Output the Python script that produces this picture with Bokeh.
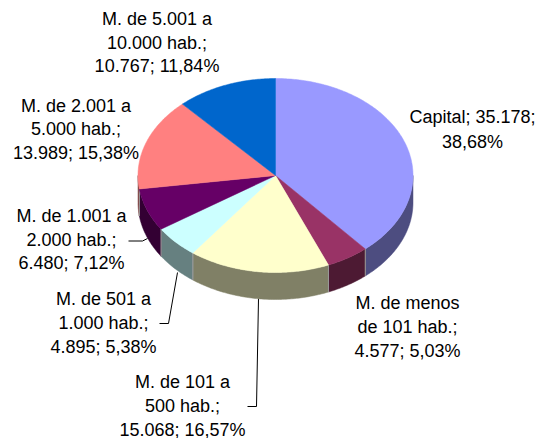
import numpy as np
from bokeh.plotting import figure
from bokeh.models import Range1d
from bokeh.core.properties import value
from bokeh.embed import file_html
from bokeh.resources import INLINE

categories = ["Capital", "M. de menos de 101 hab.", "M. de 101 a 500 hab.", "M. de 501 a 1.000 hab.",
              "M. de 1.001 a 2.000 hab.", "M. de 2.001 a 5.000 hab.", "M. de 5.001 a 10.000 hab."]
values = [35178, 4577, 15068, 4895, 6480, 13989, 10767]
top_colors = ["#9999FF", "#993366", "#FFFFCC", "#CCFFFF", "#660066", "#FF8080", "#0066CC"]
side_colors = ["#4D4D80", "#4D1A33", "#808066", "#668080", "#330033", "#804040", "#003366"]
label_lines = [
    ["Capital; 35.178;", "38,68%"],
    ["M. de menos", "de 101 hab.;", "4.577; 5,03%"],
    ["M. de 101 a", "500 hab.;", "15.068; 16,57%"],
    ["M. de 501 a", "1.000 hab.;", "4.895; 5,38%"],
    ["M. de 1.001 a", "2.000 hab.;", "6.480; 7,12%"],
    ["M. de 2.001 a", "5.000 hab.;", "13.989; 15,38%"],
    ["M. de 5.001 a", "10.000 hab.;", "10.767; 11,84%"],
]
label_x = [472, 407, 182, 103, 71, 75.5, 156.5]
label_y = [[116, 141], [302, 326, 350], [381, 405, 429], [298, 322, 346], [215, 239, 262], [105, 128, 152], [18, 42, 65]]
leaders = [([128, 142, 147], [240.5, 240.5, 238]),
           ([159, 168, 177], [323, 323, 272]),
           ([247, 256, 258], [406, 406, 298])]

CX, CY, RX, RY, DEPTH = 275, 175, 137.5, 97, 27

W, H = 539, 438
p = figure(width=W, height=H, output_backend="svg", toolbar_location=None,
           x_range=Range1d(0, W), y_range=Range1d(H, 0),
           min_border=0, outline_line_color=None, background_fill_color="white", border_fill_color="white")
p.xaxis.visible = False
p.yaxis.visible = False
p.grid.visible = False


def arc(a0, a1):
    n = max(2, int(abs(a1 - a0) * 80))
    t = np.linspace(a0, a1, n)
    return CX + RX * np.sin(t), CY - RY * np.cos(t)


edges = np.concatenate([[0], np.cumsum(values)]) / sum(values) * 2 * np.pi

# leader lines go under the pie
for lx, ly in leaders:
    p.line(lx, ly, line_color="#000000", line_width=1)

# side walls (visible only on the near half of the disc)
for i in range(len(values)):
    a0, a1 = max(edges[i], np.pi / 2), min(edges[i + 1], 3 * np.pi / 2)
    if a1 <= a0:
        continue
    x, y = arc(a0, a1)
    px = np.concatenate([x, x[::-1]])
    py = np.concatenate([y, y[::-1] + DEPTH])
    p.patch(px, py, fill_color=side_colors[i], line_color=side_colors[i], line_width=0.5)
    for a in (a0, a1):
        if np.pi / 2 < a < 3 * np.pi / 2:
            ex, ey = arc(a, a + 1e-6)
            p.line([ex[0], ex[0]], [ey[0], ey[0] + DEPTH], line_color="#9A9A9A", line_width=1)

# top faces
for i in range(len(values)):
    x, y = arc(edges[i], edges[i + 1])
    p.patch(np.concatenate([[CX], x]), np.concatenate([[CY], y]),
            fill_color=top_colors[i], line_color=top_colors[i], line_width=0.5)

# data labels
for lines, lx, lys in zip(label_lines, label_x, label_y):
    p.text([lx] * len(lines), lys, text=lines, text_font=value("Liberation Sans"),
           text_font_size="18px", text_color="#000000", text_align="center", text_baseline="middle")

open("out.html", "w").write(file_html(p, INLINE))
